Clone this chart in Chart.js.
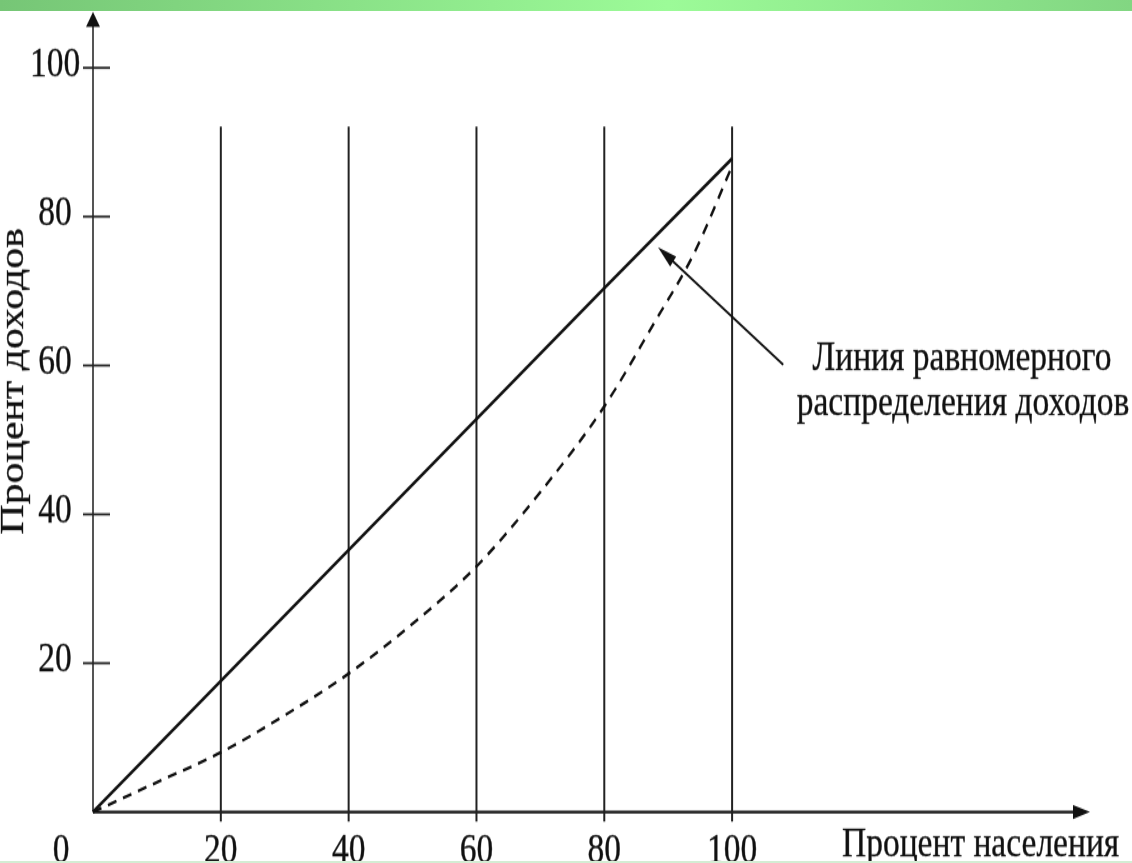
<!DOCTYPE html>
<html>
<head>
<meta charset="utf-8">
<script src="https://cdn.jsdelivr.net/npm/chart.js@4"></script>
<style>
  html, body { margin: 0; padding: 0; background: #fff; overflow: hidden; width: 1132px; height: 863px; }
  #wrap { position: absolute; left: 0; top: 0; width: 1132px; height: 691px; transform: scale(1, 1.25); transform-origin: 0 0; }
  #topBar { position: absolute; left: 0; top: 0; width: 1132px; height: 11px; z-index: 2;
    background: linear-gradient(90deg, #76c676 0%, #9cfb98 59%, #82d682 100%); }
  #bottomBar { position: absolute; left: 0; top: 861px; width: 1132px; height: 2px; z-index: 2; background: #d4edd4; }
</style>
</head>
<body>
<div id="topBar"></div>
<div id="wrap"><canvas id="lorenzChart" width="1132" height="691"></canvas></div>
<div id="bottomBar"></div>
<script>
const populationPct = [0, 20, 40, 60, 80, 100];
const equalIncome = [0, 17.6, 35.2, 52.8, 70.4, 87.8];
const actualX = [0, 10, 20, 30, 40, 50, 60, 70, 80, 88, 94, 100];
const actualIncome = [0, 4, 8, 13, 18.6, 25.3, 33, 43, 54.5, 66, 75, 86.8];
const gridX = [20, 40, 60, 80, 100];
const gridY = [-1.3, 92.1];
const yTicks = [20, 40, 60, 80, 100];
const xTicks = [0, 20, 40, 60, 80, 100];
const arrowFrom = [108, 60.1];
const arrowTo = [88.4, 75.9];
const noteLines = ["Линия равномерного", "распределения доходов"];
const xTitle = "Процент населения";
const yTitle = "Процент доходов";

const FONT = '33.5px "Liberation Serif", "Times New Roman", serif';

// text with a faint outline so it looks as heavy as the scanned original
function label(ctx, text, px, py) {
  ctx.fillText(text, px, py);
  ctx.strokeText(text, px, py);
}

const decor = {
  id: 'decor',
  beforeDatasetsDraw(chart) {
    const { ctx, scales: { x, y } } = chart;
    const x0 = x.getPixelForValue(0), y0 = y.getPixelForValue(0);
    const xEnd = x.right, yEnd = y.top;
    ctx.save();
    ctx.fillStyle = '#111';
    // x axis with arrow
    ctx.strokeStyle = '#111';
    ctx.lineWidth = 2.2;
    ctx.beginPath(); ctx.moveTo(x0, y0); ctx.lineTo(xEnd - 10, y0); ctx.stroke();
    ctx.beginPath(); ctx.moveTo(xEnd, y0); ctx.lineTo(xEnd - 17, y0 - 5.6); ctx.lineTo(xEnd - 17, y0 + 5.6); ctx.closePath(); ctx.fill();
    // y axis with arrow
    ctx.strokeStyle = '#555';
    ctx.lineWidth = 2;
    ctx.beginPath(); ctx.moveTo(x0, y0); ctx.lineTo(x0, yEnd + 8); ctx.stroke();
    ctx.beginPath(); ctx.moveTo(x0, yEnd); ctx.lineTo(x0 - 7, yEnd + 12); ctx.lineTo(x0 + 7, yEnd + 12); ctx.closePath(); ctx.fill();
    // y tick marks
    ctx.strokeStyle = '#222';
    ctx.lineWidth = 1.8;
    yTicks.forEach(v => {
      const py = y.getPixelForValue(v);
      ctx.beginPath(); ctx.moveTo(x0 - 10, py); ctx.lineTo(x0 + 17, py); ctx.stroke();
    });
    ctx.restore();
  },
  afterDatasetsDraw(chart) {
    const { ctx, scales: { x, y } } = chart;
    ctx.save();
    ctx.fillStyle = '#111';
    ctx.strokeStyle = 'rgba(17,17,17,0.6)';
    ctx.lineWidth = 0.5;
    ctx.font = FONT;

    // y tick labels
    ctx.textAlign = 'center';
    ctx.textBaseline = 'middle';
    yTicks.forEach(v => label(ctx, String(v), 55, y.getPixelForValue(v) - 2));

    // x tick labels
    ctx.textBaseline = 'alphabetic';
    xTicks.forEach(v => {
      const px = x.getPixelForValue(v) + (v === 0 ? -32 : 0);
      label(ctx, String(v), px, 689.5);
    });

    // axis titles
    ctx.textAlign = 'left';
    label(ctx, xTitle, 842, 685);
    ctx.save();
    ctx.translate(22.5, 305);
    ctx.rotate(-Math.PI / 2);
    ctx.textAlign = 'center';
    label(ctx, yTitle, 0, 0);
    ctx.restore();

    // note
    ctx.textAlign = 'center';
    label(ctx, noteLines[0], 962, 296);
    label(ctx, noteLines[1], 963, 332);

    // note arrow
    const tx = x.getPixelForValue(arrowFrom[0]), ty = y.getPixelForValue(arrowFrom[1]);
    const hx = x.getPixelForValue(arrowTo[0]), hy = y.getPixelForValue(arrowTo[1]);
    const ang = Math.atan2(hy - ty, hx - tx);
    ctx.strokeStyle = '#111';
    ctx.lineWidth = 2;
    ctx.beginPath(); ctx.moveTo(tx, ty); ctx.lineTo(hx - 12 * Math.cos(ang), hy - 12 * Math.sin(ang)); ctx.stroke();
    ctx.translate(hx, hy);
    ctx.rotate(ang);
    ctx.beginPath(); ctx.moveTo(0, 0); ctx.lineTo(-19, -5); ctx.lineTo(-19, 5); ctx.closePath(); ctx.fill();
    ctx.restore();
  }
};

const datasets = [
  {
    label: 'Равномерное',
    data: populationPct.map((v, i) => ({ x: v, y: equalIncome[i] })),
    borderColor: '#111', borderWidth: 2.6, pointRadius: 0, clip: false
  },
  {
    label: 'Фактическое',
    data: actualX.map((v, i) => ({ x: v, y: actualIncome[i] })),
    borderColor: '#111', borderWidth: 2.4, borderDash: [9, 7], pointRadius: 0,
    cubicInterpolationMode: 'monotone', clip: false
  },
  ...gridX.map(gx => ({
    label: 'grid ' + gx,
    data: gridY.map(gy => ({ x: gx, y: gy })),
    borderColor: '#222', borderWidth: 2, pointRadius: 0, clip: false
  }))
];

new Chart(document.getElementById('lorenzChart').getContext('2d'), {
  type: 'line',
  data: { datasets },
  options: {
    responsive: false,
    animation: false,
    devicePixelRatio: 1,
    layout: { padding: { left: 93, right: 42, top: 9.6, bottom: 41.4 } },
    plugins: { legend: { display: false }, tooltip: { enabled: false } },
    scales: {
      x: { type: 'linear', min: 0, max: 156, display: false },
      y: { type: 'linear', min: 0, max: 107.5, display: false }
    }
  },
  plugins: [decor]
});
</script>
</body>
</html>
